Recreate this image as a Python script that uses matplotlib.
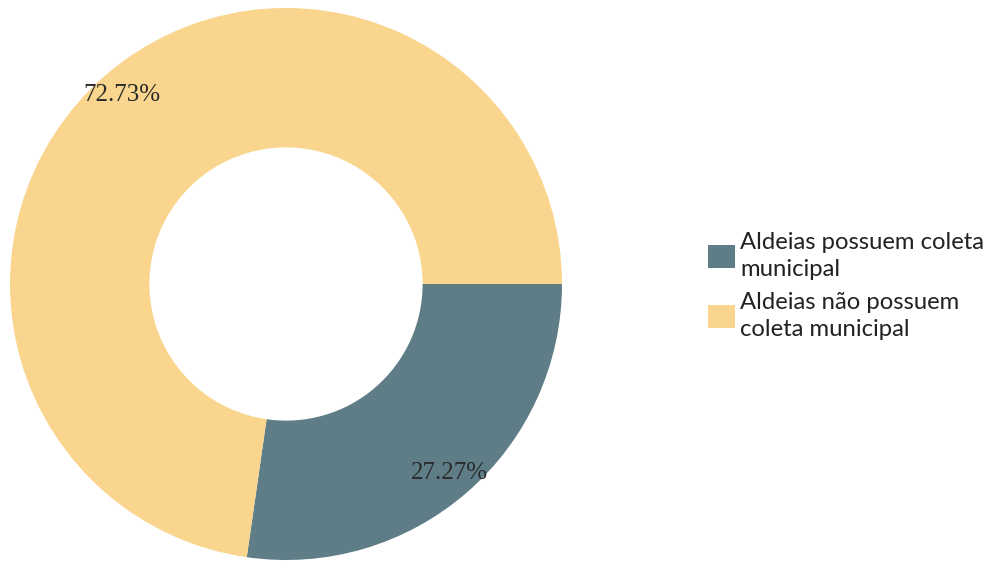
import matplotlib
matplotlib.use("Agg")
import matplotlib.pyplot as plt
from matplotlib.patches import Patch

labels = ["Aldeias possuem coleta\nmunicipal", "Aldeias não possuem\ncoleta municipal"]
values = [27.27, 72.73]
colors = ["#5e7d87", "#f9d58d"]

W, H = 1004, 561
fig = plt.figure(figsize=(W / 100, H / 100), dpi=100)
cx, cy, r = 286, 284, 276
ax = fig.add_axes([(cx - r) / W, (H - cy - r) / H, 2 * r / W, 2 * r / H])
wedges, texts, autotexts = ax.pie(
    values, colors=colors, startangle=0, counterclock=False, radius=1,
    autopct="%.2f%%", pctdistance=0.905,
    wedgeprops=dict(width=0.505, linewidth=0),
    textprops=dict(family="Liberation Serif", fontsize=18, color="#2a2a2a"),
)
ax.set_xlim(-1, 1)
ax.set_ylim(-1, 1)
ax.set_aspect("equal")
ax.axis("off")

handles = [Patch(facecolor=c, edgecolor="none") for c in colors]
leg = fig.legend(handles, labels, loc="center left", bbox_to_anchor=(708 / W, 1 - 286 / H),
                 frameon=False, prop=dict(family="Lato", size=17.2),
                 handlelength=1.15, handleheight=1.15, handletextpad=0.2,
                 labelspacing=0.5, borderpad=0, borderaxespad=0, labelcolor="#222222")
for t in leg.get_texts():
    t.set_linespacing(1.35)

fig.savefig("out.png", dpi=100, facecolor="white")
